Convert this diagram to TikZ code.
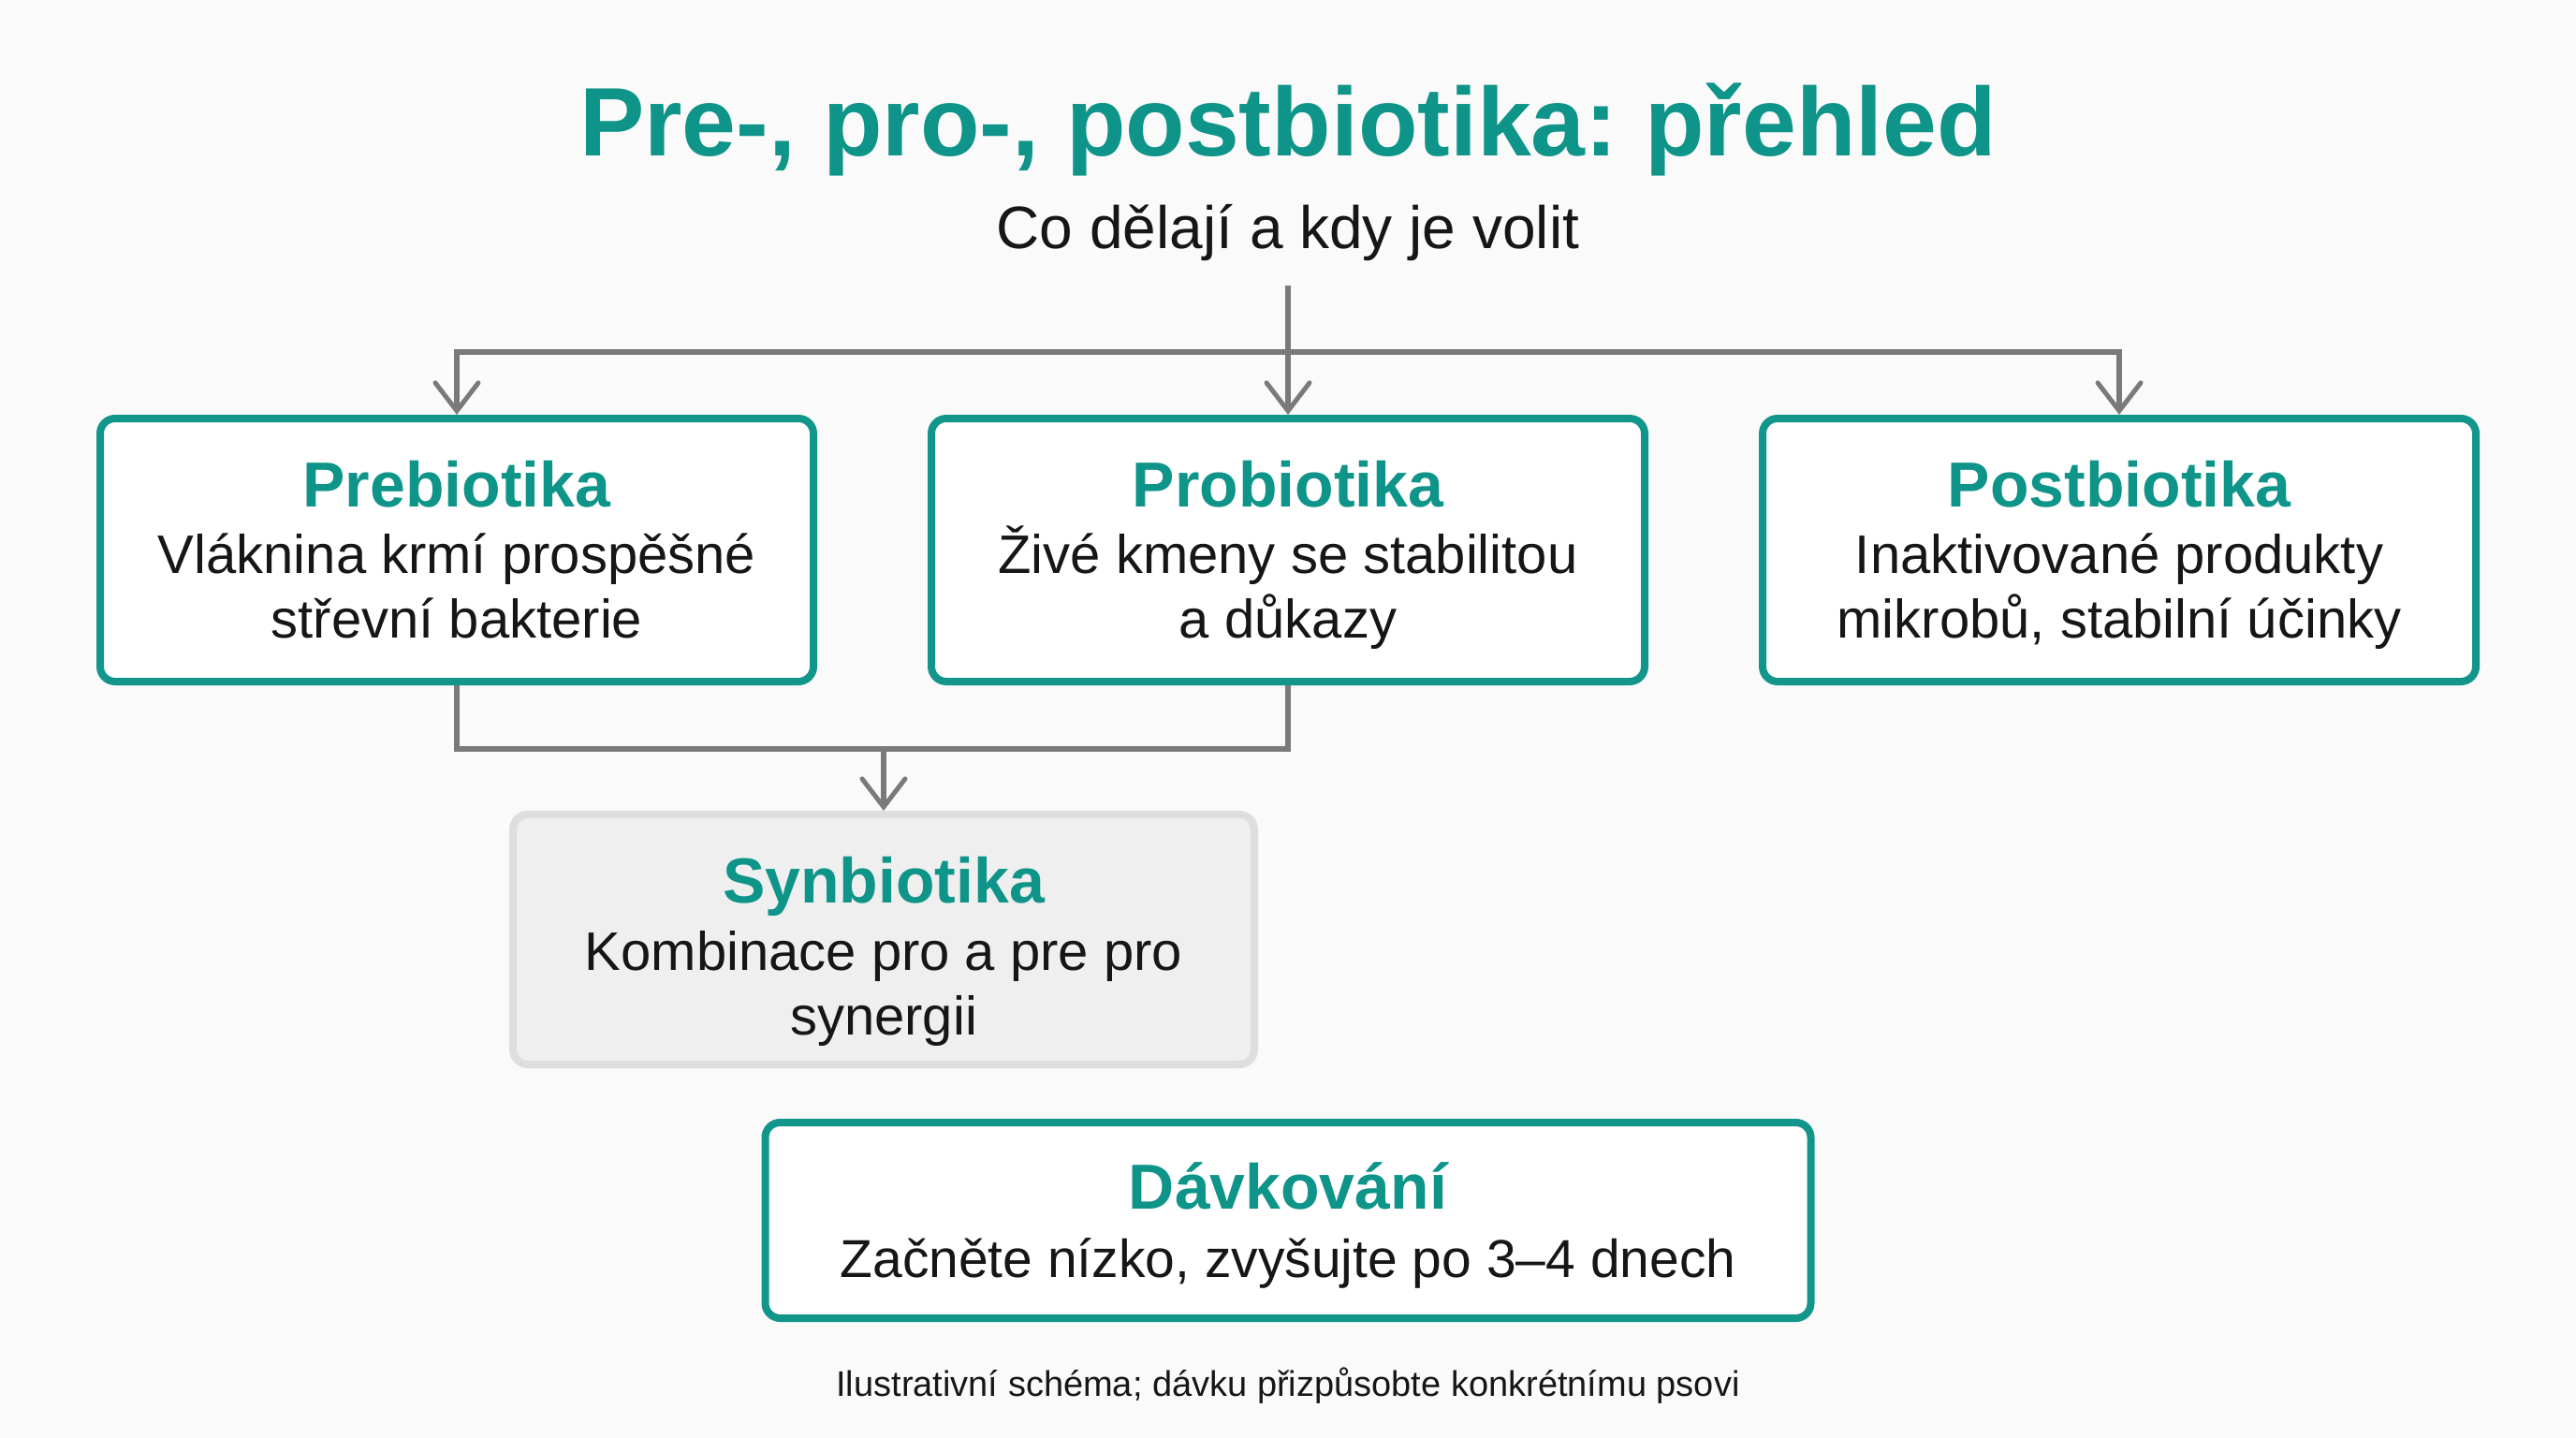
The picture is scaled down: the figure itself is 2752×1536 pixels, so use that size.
\documentclass[tikz,border=0pt]{standalone}
\usepackage{fontspec}
\setmainfont{Liberation Sans}
\frenchspacing
\usetikzlibrary{arrows.meta}
\definecolor{teal1}{RGB}{18,150,140}
\definecolor{tealtxt}{RGB}{14,148,136}
\definecolor{conn}{RGB}{122,122,122}
\definecolor{bg}{RGB}{250,250,250}
\definecolor{synfill}{RGB}{239,239,239}
\definecolor{synline}{RGB}{222,222,222}
\definecolor{txt}{RGB}{22,22,22}
\tikzset{
  card/.style={draw=teal1, line width=8pt, rounded corners=16pt, fill=white, minimum width=762pt, minimum height=281pt, inner sep=0pt},
  syncard/.style={draw=synline, line width=8pt, rounded corners=16pt, fill=synfill, minimum width=792pt, minimum height=267pt, inner sep=0pt},
  dosecard/.style={draw=teal1, line width=8pt, rounded corners=16pt, fill=white, minimum width=1117pt, minimum height=209pt, inner sep=0pt},
  cardtitle/.style={anchor=base, inner sep=0pt, text=tealtxt, font=\bfseries\fontsize{68}{80}\selectfont},
  cardbody/.style={anchor=base, inner sep=0pt, text=txt, font=\fontsize{58}{68}\selectfont},
  conline/.style={draw=conn, line width=5.5pt},
  arr/.style={conline, -{Straight Barb[length=30pt, width=46pt, line width=5pt, line cap=round]}},
}
\begin{document}
\begin{tikzpicture}[x=1pt, y=-1pt]
\useasboundingbox[fill=bg] (0,0) rectangle (2752,1536);

\node[anchor=base, inner sep=0pt, text=tealtxt, font=\bfseries\fontsize{104}{120}\selectfont] (title) at (1376,166) {Pre-, pro-, postbiotika: přehled};
\node[anchor=base, inner sep=0pt, text=txt, font=\fontsize{64}{72}\selectfont] (subtitle) at (1376,265) {Co dělají a kdy je volit};

\node[card] (prebio) at (488,587.5) {};
\node[card] (probio) at (1376,587.5) {};
\node[card] (postbio) at (2264,587.5) {};
\node[syncard] (synbio) at (944,1003.5) {};
\node[dosecard] (dose) at (1376,1303.5) {};

\node[cardtitle] (prebioT) at (488,541) {Prebiotika};
\node[cardbody] (prebioA) at (488,612) {Vláknina krmí prospěšné};
\node[cardbody] (prebioB) at (488,681) {střevní bakterie};

\node[cardtitle] (probioT) at (1376,541) {Probiotika};
\node[cardbody] (probioA) at (1376,612) {Živé kmeny se stabilitou};
\node[cardbody] (probioB) at (1376,681) {a důkazy};

\node[cardtitle] (postbioT) at (2264,541) {Postbiotika};
\node[cardbody] (postbioA) at (2264,612) {Inaktivované produkty};
\node[cardbody] (postbioB) at (2264,681) {mikrobů, stabilní účinky};

\node[cardtitle] (synbioT) at (944,964) {Synbiotika};
\node[cardbody] (synbioA) at (944,1036) {Kombinace pro a pre pro};
\node[cardbody] (synbioB) at (944,1105) {synergii};

\node[cardtitle] (doseT) at (1376,1291) {Dávkování};
\node[cardbody, font=\fontsize{57}{68}\selectfont] (doseA) at (1376,1364) {Začněte nízko, zvyšujte po 3–4 dnech};

\node[anchor=base, inner sep=0pt, text=txt, font=\fontsize{38}{46}\selectfont] (foot) at (1376,1491) {Ilustrativní schéma; dávku přizpůsobte konkrétnímu psovi};

\coordinate (start) at (1376,305);
\coordinate (split) at (1376,376);
\coordinate (join) at (944,800);

\draw[arr] (start) -- (probio.north);
\draw[arr] (split) -| (prebio.north);
\draw[arr] (split) -| (postbio.north);
\draw[conline] (prebio.south) |- (join) -| (probio.south);
\draw[arr] (join) -- (synbio.north);
\end{tikzpicture}
\end{document}
